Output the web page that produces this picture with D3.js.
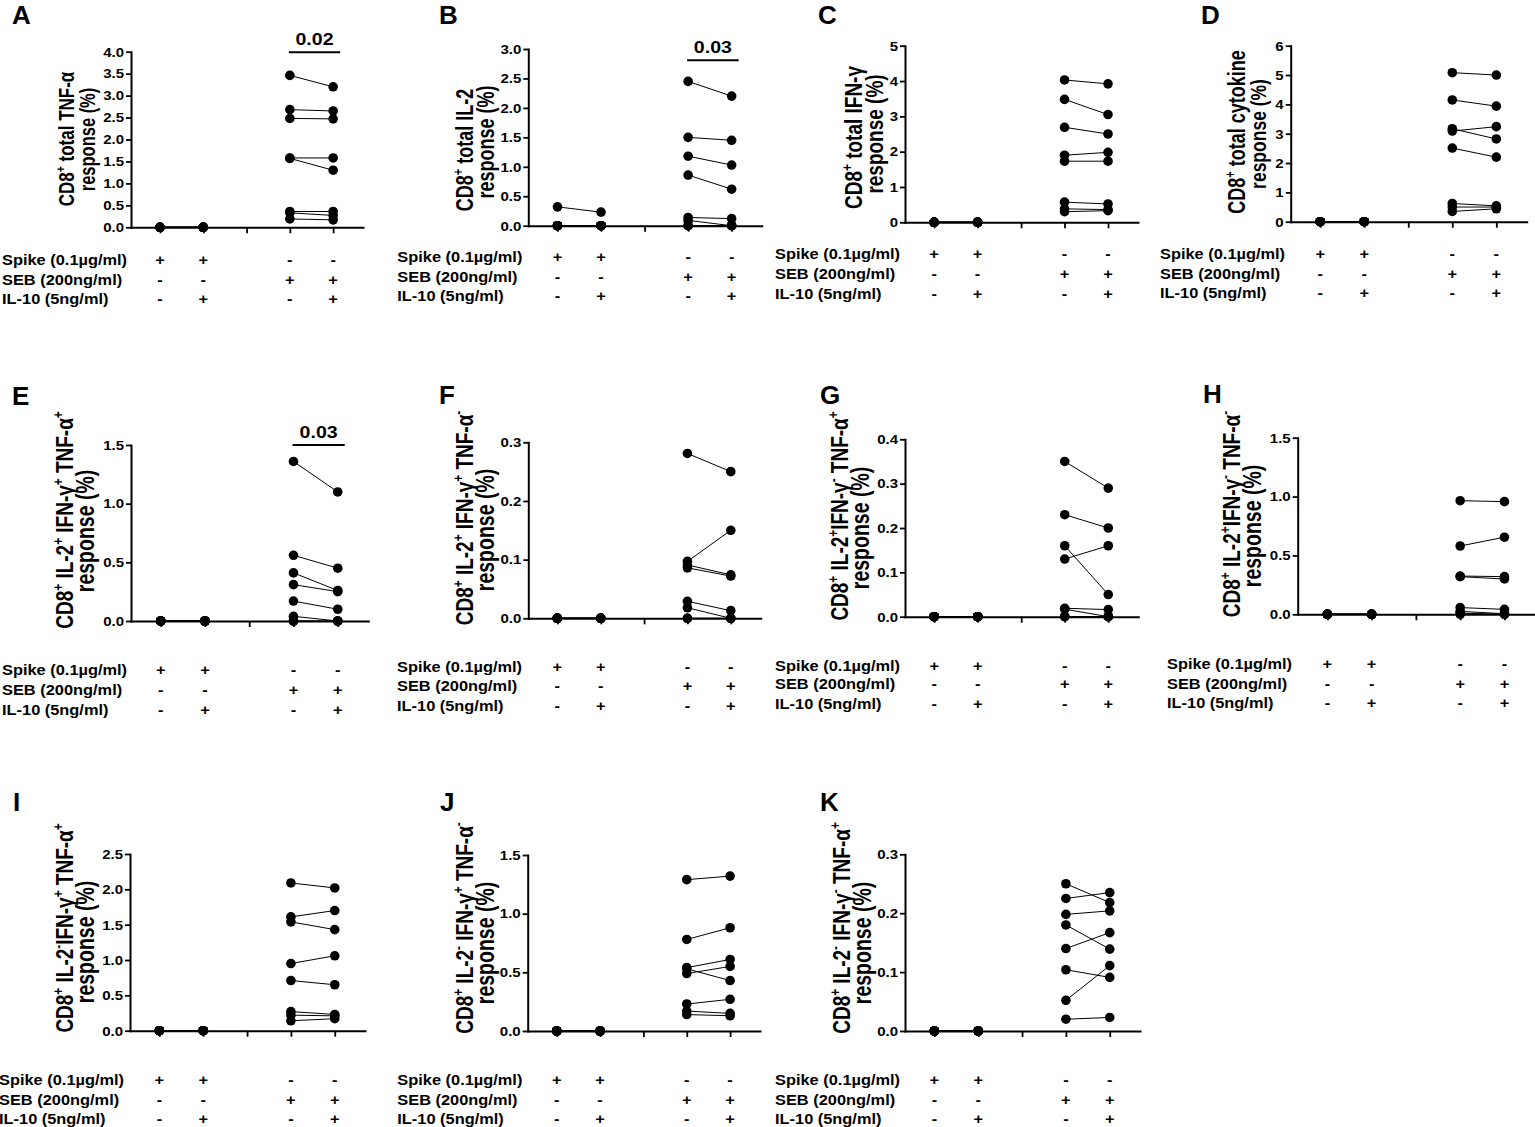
<!DOCTYPE html>
<html><head><meta charset="utf-8">
<script src="https://cdn.jsdelivr.net/npm/d3@7"></script>
<style>
body{margin:0;background:#fff;}
svg{display:block;font-family:"Liberation Sans",Arial,Helvetica,sans-serif;font-weight:bold;}
</style>
</head><body>
<svg id="chart" width="1535" height="1127"></svg>
<script>
// ---------- categories / labels ----------
const groups = ["Spike", "Spike + IL-10", "SEB", "SEB + IL-10"];
const groupSlots = [0, 1, 3, 4];          // category slot on x axis (slot 2 is empty)
const xSlots = [0, 1, 2, 3, 4];
const conditionRows = ["Spike (0.1µg/ml)", "SEB (200ng/ml)", "IL-10 (5ng/ml)"];
const spikeSigns = ["+", "+", "-", "-"];
const sebSigns   = ["-", "-", "+", "+"];
const il10Signs  = ["-", "+", "-", "+"];
const zeros = [0, 0, 0, 0, 0, 0, 0, 0];

// ---------- values (8 donors per group) ----------
const A_spike = zeros, A_spikeIL10 = zeros;
const A_seb     = [3.46, 2.68, 2.48, 1.58, 1.57, 0.36, 0.33, 0.19];
const A_sebIL10 = [3.20, 2.65, 2.47, 1.58, 1.30, 0.36, 0.27, 0.17];

const B_spike     = [0.32, 0, 0, 0, 0, 0, 0, 0];
const B_spikeIL10 = [0.23, 0, 0, 0, 0, 0, 0, 0];
const B_seb     = [2.45, 1.50, 1.18, 0.86, 0.14, 0.09, 0, 0];
const B_sebIL10 = [2.20, 1.45, 1.03, 0.62, 0.12, 0.00, 0, 0];

const C_spike = zeros, C_spikeIL10 = zeros;
const C_seb     = [4.03, 3.48, 2.69, 1.90, 1.73, 0.57, 0.38, 0.30];
const C_sebIL10 = [3.92, 3.05, 2.50, 1.98, 1.73, 0.52, 0.36, 0.33];

const D_spike = zeros, D_spikeIL10 = zeros;
const D_seb     = [5.08, 4.15, 3.17, 3.09, 2.51, 0.62, 0.50, 0.35];
const D_sebIL10 = [5.00, 3.94, 2.82, 3.24, 2.20, 0.54, 0.50, 0.44];

const E_spike = zeros, E_spikeIL10 = zeros;
const E_seb     = [1.36, 0.56, 0.41, 0.31, 0.17, 0.04, 0, 0];
const E_sebIL10 = [1.10, 0.45, 0.26, 0.25, 0.10, 0.00, 0, 0];

const F_spike = zeros, F_spikeIL10 = zeros;
const F_seb     = [0.281, 0.097, 0.091, 0.086, 0.029, 0.018, 0, 0];
const F_sebIL10 = [0.250, 0.150, 0.074, 0.072, 0.013, 0.000, 0, 0];

const G_spike = zeros, G_spikeIL10 = zeros;
const G_seb     = [0.35, 0.23, 0.13, 0.16, 0.019, 0.017, 0, 0];
const G_sebIL10 = [0.29, 0.20, 0.16, 0.05, 0.016, 0.000, 0, 0];

const H_spike = zeros, H_spikeIL10 = zeros;
const H_seb     = [0.965, 0.58, 0.325, 0.32, 0.057, 0.025, 0.01, 0];
const H_sebIL10 = [0.957, 0.655, 0.32, 0.30, 0.042, 0.005, 0.00, 0];

const I_spike = zeros, I_spikeIL10 = zeros;
const I_seb     = [2.09, 1.61, 1.54, 0.95, 0.71, 0.27, 0.22, 0.14];
const I_sebIL10 = [2.02, 1.70, 1.43, 1.06, 0.65, 0.23, 0.21, 0.17];

const J_spike = zeros, J_spikeIL10 = zeros;
const J_seb     = [1.29, 0.78, 0.54, 0.53, 0.49, 0.23, 0.17, 0.14];
const J_sebIL10 = [1.32, 0.88, 0.61, 0.43, 0.55, 0.27, 0.15, 0.13];

const K_spike = zeros, K_spikeIL10 = zeros;
const K_seb     = [0.250, 0.225, 0.198, 0.180, 0.140, 0.104, 0.052, 0.020];
const K_sebIL10 = [0.218, 0.235, 0.204, 0.139, 0.167, 0.091, 0.111, 0.023];

// ---------- panel definitions (text + layout) ----------
const panels = [
 {id:"A", t1:"CD8^+ total TNF-α", data:[A_spike,A_spikeIL10,A_seb,A_sebIL10], yMax:4, yStep:0.5, fmt:".1f", p:"0.02", pAt:3.99,
  box:{ax:131,end:363,top:51.7,bot:227.3}, tt:{x:74,c1:139,c2:139.5,f1:17,f2:16.5}, rowsY:[259.3,279.3,298.3], rowX:2, letter:[12,24]},
 {id:"B", t1:"CD8^+ total IL-2", data:[B_spike,B_spikeIL10,B_seb,B_sebIL10], yMax:3, yStep:0.5, fmt:".1f", p:"0.03", pAt:2.81,
  box:{ax:528.3,end:761.7,top:49,bot:225.7}, tt:{x:473,c1:150,c2:142,f1:18,f2:18}, rowsY:[256.7,276.7,296], rowX:397.3, letter:[439,24]},
 {id:"C", t1:"CD8^+ total IFN-γ", data:[C_spike,C_spikeIL10,C_seb,C_sebIL10], yMax:5, yStep:1, fmt:"d",
  box:{ax:905,end:1138,top:45.7,bot:222.3}, tt:{x:862,c1:137.5,c2:134,f1:19,f2:19}, rowsY:[254,273.3,293.3], rowX:775, letter:[818,24]},
 {id:"D", t1:"CD8^+ total cytokine", data:[D_spike,D_spikeIL10,D_seb,D_sebIL10], yMax:6, yStep:1, fmt:"d",
  box:{ax:1290.7,end:1526.7,top:45.7,bot:221.7}, tt:{x:1245,c1:132,c2:134,f1:18,f2:17.5}, rowsY:[254,273.3,292.7], rowX:1160, letter:[1201,24]},
 {id:"E", t1:"CD8^+ IL-2^+ IFN-γ^+ TNF-α^+", data:[E_spike,E_spikeIL10,E_seb,E_sebIL10], yMax:1.5, yStep:0.5, fmt:".1f", p:"0.03", pAt:1.5,
  box:{ax:131,end:368.3,top:445,bot:621}, tt:{x:73,c1:520,c2:531,f1:19,f2:19.5}, rowsY:[670,690,709.3], rowX:2, letter:[12,405]},
 {id:"F", t1:"CD8^+ IL-2^+ IFN-γ^+ TNF-α^-", data:[F_spike,F_spikeIL10,F_seb,F_sebIL10], yMax:0.3, yStep:0.1, fmt:".1f",
  box:{ax:528.3,end:760.7,top:442.3,bot:618.3}, tt:{x:473,c1:518,c2:530,f1:19,f2:19.5}, rowsY:[666.7,686,705.7], rowX:397, letter:[439,404]},
 {id:"G", t1:"CD8^+ IL-2^+IFN-γ^- TNF-α^+", data:[G_spike,G_spikeIL10,G_seb,G_sebIL10], yMax:0.4, yStep:0.1, fmt:".1f",
  box:{ax:905,end:1138.3,top:439.3,bot:616.7}, tt:{x:848,c1:516,c2:528,f1:19,f2:19.5}, rowsY:[665.7,684,703.3], rowX:775, letter:[820,404]},
 {id:"H", t1:"CD8^+ IL-2^+IFN-γ^- TNF-α^-", data:[H_spike,H_spikeIL10,H_seb,H_sebIL10], yMax:1.5, yStep:0.5, fmt:".1f",
  box:{ax:1297.7,end:1535,top:437.7,bot:614.3}, tt:{x:1240,c1:514,c2:526,f1:19,f2:19.5}, rowsY:[664,683.3,702.7], rowX:1167, letter:[1203,403]},
 {id:"I", t1:"CD8^+ IL-2^-IFN-γ^+ TNF-α^+", data:[I_spike,I_spikeIL10,I_seb,I_sebIL10], yMax:2.5, yStep:0.5, fmt:".1f",
  box:{ax:130,end:365,top:854,bot:1030.7}, tt:{x:73,c1:928,c2:942,f1:19,f2:19.5}, rowsY:[1080,1099.3,1118.3], rowX:-1, letter:[13,811]},
 {id:"J", t1:"CD8^+ IL-2^- IFN-γ^+ TNF-α^-", data:[J_spike,J_spikeIL10,J_seb,J_sebIL10], yMax:1.5, yStep:0.5, fmt:".1f",
  box:{ax:527.7,end:760,top:855,bot:1031}, tt:{x:473,c1:928,c2:943,f1:19,f2:19.5}, rowsY:[1080,1099.3,1118.3], rowX:397.3, letter:[440,811]},
 {id:"K", t1:"CD8^+ IL-2^- IFN-γ^- TNF-α^+", data:[K_spike,K_spikeIL10,K_seb,K_sebIL10], yMax:0.3, yStep:0.1, fmt:".1f",
  box:{ax:905,end:1140,top:854.3,bot:1031}, tt:{x:850,c1:928,c2:943,f1:19,f2:19.5}, rowsY:[1080,1099.3,1118.3], rowX:775, letter:[820,811]}
];

const signRows = [spikeSigns, sebSigns, il10Signs];
const xDomain = [-0.67, 4.69];
const TICK_SX = 1.25, ROW_SX = 1.13, TITLE_SX = 1.3;

const svg = d3.select("#chart");

function stext(parent, x, y, str, fs, sx, anchor) {
  return parent.append("text")
    .attr("transform", `translate(${x},${y}) scale(${sx},1)`)
    .attr("text-anchor", anchor).attr("font-size", fs)
    .attr("font-weight", "bold").attr("fill", "#000").text(str);
}

function richTitle(parent, x, cy, str, fs) {
  const t = parent.append("text")
    .attr("transform", `translate(${x},${cy}) scale(${TITLE_SX},1) rotate(-90)`)
    .attr("text-anchor", "middle").attr("font-size", fs).attr("font-weight", "bold");
  const parts = str.split(/(\^.)/).filter(s => s.length);
  let shifted = false;
  const sh = 0.42 * fs;
  parts.forEach(p => {
    if (p[0] === "^") {
      t.append("tspan").attr("font-size", fs * 0.62).attr("dy", shifted ? 0 : -sh).text(p[1]);
      shifted = true;
    } else {
      t.append("tspan").attr("dy", shifted ? sh : 0).text(p);
      shifted = false;
    }
  });
  return t;
}

panels.forEach(P => {
  const b = P.box;
  const x = d3.scaleLinear().domain(xDomain).range([b.ax, b.end]);
  const y = d3.scaleLinear().domain([0, P.yMax]).range([b.bot, b.top]);
  const g = svg.append("g").attr("class", "panel-" + P.id);

  // panel letter
  g.append("text").attr("x", P.letter[0]).attr("y", P.letter[1])
    .attr("font-size", 26).attr("font-weight", "bold").text(P.id);

  // y axis
  const yAxis = d3.axisLeft(y)
    .tickValues(d3.range(0, P.yMax + P.yStep / 2, P.yStep))
    .tickSize(5).tickSizeOuter(0).tickFormat(d3.format(P.fmt));
  const ya = g.append("g").attr("transform", `translate(${b.ax},0)`).call(yAxis)
    .attr("font-family", null).attr("font-size", null);
  ya.select(".domain").attr("stroke-width", 2).attr("stroke-linecap", "square");
  ya.selectAll(".tick line").attr("stroke-width", 1.8);
  ya.selectAll(".tick text").attr("x", -7 / TICK_SX).attr("dy", "0.36em")
    .attr("transform", `scale(${TICK_SX},1)`).attr("font-size", 12).attr("font-weight", "bold");

  // x axis
  const xAxis = d3.axisBottom(x).tickValues(xSlots).tickSize(6).tickSizeOuter(0).tickFormat("");
  const xa = g.append("g").attr("transform", `translate(0,${b.bot})`).call(xAxis);
  xa.select(".domain").attr("stroke-width", 2).attr("stroke-linecap", "square");
  xa.selectAll(".tick line").attr("stroke-width", 1.8);

  // connecting lines (paired donors)
  const [s0, s1, s2, s3] = P.data;
  [[s0, s1, 0, 1], [s2, s3, 2, 3]].forEach(([a, c, i0, i1]) => {
    g.append("g").selectAll("line").data(d3.range(a.length)).join("line")
      .attr("x1", x(groupSlots[i0])).attr("y1", i => y(a[i]))
      .attr("x2", x(groupSlots[i1])).attr("y2", i => y(c[i]))
      .attr("stroke", "#000").attr("stroke-width", 1);
  });

  // dots
  P.data.forEach((arr, gi) => {
    g.append("g").selectAll("circle").data(arr).join("circle")
      .attr("cx", x(groupSlots[gi])).attr("cy", d => y(d)).attr("r", 4.8).attr("fill", "#000");
  });

  // significance bracket
  if (P.p) {
    const yy = y(P.pAt), x1 = x(3) - 1, x2 = x(4) + 7;
    g.append("line").attr("x1", x1).attr("x2", x2).attr("y1", yy).attr("y2", yy)
      .attr("stroke", "#000").attr("stroke-width", 2);
    stext(g, (x1 + x2) / 2, yy - 7.5, P.p, 17, 1.15, "middle");
  }

  // y title (two lines)
  richTitle(g, P.tt.x, P.tt.c1, P.t1, P.tt.f1);
  richTitle(g, P.tt.x + 21, P.tt.c2, "response (%)", P.tt.f2);

  // condition rows
  conditionRows.forEach((lab, r) => {
    const yy = P.rowsY[r] + 5.2;
    stext(g, P.rowX, yy, lab, 14.5, ROW_SX, "start");
    signRows[r].forEach((s, k) => stext(g, x(groupSlots[k]), yy, s, 14.5, ROW_SX, "middle"));
  });
});
</script>
</body></html>
